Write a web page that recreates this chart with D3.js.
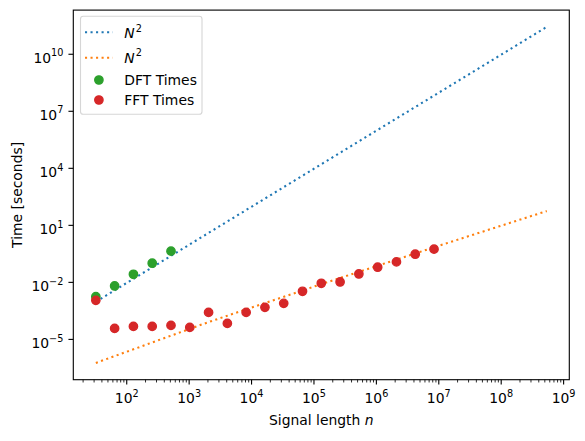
<!DOCTYPE html>
<html><head><meta charset="utf-8">
<script src="https://cdn.jsdelivr.net/npm/d3@7"></script>
<style>body{margin:0;background:#fff}svg{display:block}text{font-family:"DejaVu Sans",sans-serif;fill:#000}</style>
</head><body>
<svg id="c" width="585" height="441"></svg>
<script>
// ---- data ----
const nDFT = [32, 64, 128, 256, 512];
const dftTimes = [1.76e-3, 6.46e-3, 2.67e-2, 1.02e-1, 4.38e-1];
const nFFT = [32, 64, 128, 256, 512, 1024, 2048, 4096, 8192, 16384, 32768, 65536, 131072, 262144, 524288, 1048576, 2097152, 4194304, 8388608];
const fftTimes = [1.135e-3, 3.78e-5, 4.82e-5, 4.82e-5, 5.45e-5, 4.28e-5, 2.64e-4, 6.95e-5, 2.64e-4, 4.85e-4, 7.89e-4, 3.39e-3, 8.97e-3, 1.05e-2, 2.77e-2, 6.27e-2, 0.1194, 0.304, 0.558];
const nRef = [32, 2048, 131072, 8388608, 536870912];
const refSquare = [9.55e-4, 4.0, 1.64e4, 6.71e7, 2.75e11];
const refNlogN = [5.81e-7, 8.18e-5, 8.09e-3, 0.700, 56.5];
const xTickExps = [2, 3, 4, 5, 6, 7, 8, 9];
const yTickExps = [-5, -2, 1, 4, 7, 10];
const legendLabels = ["N^2", "N^2", "DFT Times", "FFT Times"];

const C = {blue:"#1f77b4", orange:"#ff7f0e", green:"#2ca02c", red:"#d62728"};
const L = 73.3, R = 569.3, T = 10.1, B = 379.7;
const svg = d3.select("#c");

function logDomain(vals){
  const lo = Math.log10(d3.min(vals)), hi = Math.log10(d3.max(vals)), r = hi - lo;
  return [Math.pow(10, lo - 0.05*r), Math.pow(10, hi + 0.05*r)];
}
const x = d3.scaleLog().domain(logDomain([...nDFT, ...nFFT, ...nRef])).range([L, R]);
const y = d3.scaleLog().domain(logDomain([...dftTimes, ...fftTimes, ...refSquare, ...refNlogN])).range([B, T]);

// lines
const line = d3.line().x(d => x(d[0])).y(d => y(d[1]));
const dash = "2.08,3.44";
svg.append("path").datum(d3.zip(nRef, refSquare)).attr("d", line)
  .attr("fill","none").attr("stroke",C.blue).attr("stroke-width",2.08).attr("stroke-dasharray",dash);
svg.append("path").datum(d3.zip(nRef, refNlogN)).attr("d", line)
  .attr("fill","none").attr("stroke",C.orange).attr("stroke-width",2.08).attr("stroke-dasharray",dash);

// points
svg.append("g").selectAll("circle").data(d3.zip(nDFT, dftTimes)).join("circle")
  .attr("cx", d => x(d[0])).attr("cy", d => y(d[1])).attr("r", 4.17)
  .attr("fill", C.green).attr("stroke", C.green).attr("stroke-width", 1.39);
svg.append("g").selectAll("circle").data(d3.zip(nFFT, fftTimes)).join("circle")
  .attr("cx", d => x(d[0])).attr("cy", d => y(d[1])).attr("r", 4.17)
  .attr("fill", C.red).attr("stroke", C.red).attr("stroke-width", 1.39);

// axes box
svg.append("rect").attr("x", L).attr("y", T).attr("width", R-L).attr("height", B-T)
  .attr("fill","none").attr("stroke","#000").attr("stroke-width",1.11);

function powLabel(sel, exp){
  sel.append("tspan").text("10");
  sel.append("tspan").attr("font-size", 9.7).attr("dy", -6.3)
     .text(exp < 0 ? "\u2212" + Math.abs(exp) : String(exp));
}

// x ticks
const xMajor = xTickExps.map(e => Math.pow(10, e));
const [dx0, dx1] = x.domain();
const xMinor = [];
for (let e = 1; e <= 9; e++) for (let m = 2; m <= 9; m++) { const v = m*Math.pow(10, e); if (v >= dx0 && v <= dx1) xMinor.push(v); }
svg.append("g").selectAll("line").data(xMinor).join("line")
  .attr("x1", d => x(d)).attr("x2", d => x(d)).attr("y1", B).attr("y2", B + 2.78)
  .attr("stroke", "#000").attr("stroke-width", 0.83);
svg.append("g").selectAll("line").data(xMajor).join("line")
  .attr("x1", d => x(d)).attr("x2", d => x(d)).attr("y1", B).attr("y2", B + 4.86)
  .attr("stroke", "#000").attr("stroke-width", 1.11);
xTickExps.forEach(e => {
  const t = svg.append("text").attr("x", x(Math.pow(10, e))).attr("y", 403).attr("font-size", 13.9).attr("text-anchor", "middle");
  powLabel(t, e);
});

// y ticks
svg.append("g").selectAll("line").data(yTickExps).join("line")
  .attr("x1", L - 4.86).attr("x2", L).attr("y1", d => y(Math.pow(10, d))).attr("y2", d => y(Math.pow(10, d)))
  .attr("stroke", "#000").attr("stroke-width", 1.11);
yTickExps.forEach(e => {
  const t = svg.append("text").attr("x", L - 9.9).attr("y", y(Math.pow(10, e)) + 8.5).attr("font-size", 13.9).attr("text-anchor", "end");
  powLabel(t, e);
});

// axis labels
const xl = svg.append("text").attr("x", (L+R)/2).attr("y", 425).attr("font-size", 13.9).attr("text-anchor", "middle");
xl.append("tspan").text("Signal length ");
xl.append("tspan").attr("font-style", "italic").text("n");
svg.append("text").attr("transform", `translate(22,${(T+B)/2}) rotate(-90)`).attr("font-size", 13.9)
  .attr("text-anchor", "middle").text("Time [seconds]");

// legend
const lg = svg.append("g");
lg.append("rect").attr("x", 80.5).attr("y", 16.3).attr("width", 121.5).attr("height", 98).attr("rx", 2.8)
  .attr("fill", "#fff").attr("fill-opacity", 0.8).attr("stroke", "#d6d6d6").attr("stroke-width", 1.11);
const rows = [
  {type:"line", color:C.blue, cy:32.3, base:38.3},
  {type:"line", color:C.orange, cy:57.7, base:62.7},
  {type:"dot", color:C.green, cy:80, base:85},
  {type:"dot", color:C.red, cy:100, base:105}
];
rows.forEach((r, i) => {
  if (r.type === "line") {
    lg.append("line").attr("x1", 85).attr("x2", 112.8).attr("y1", r.cy).attr("y2", r.cy)
      .attr("stroke", r.color).attr("stroke-width", 2.08).attr("stroke-dasharray", dash);
  } else {
    lg.append("circle").attr("cx", 98.9).attr("cy", r.cy).attr("r", 4.17)
      .attr("fill", r.color).attr("stroke", r.color).attr("stroke-width", 1.39);
  }
  const lab = legendLabels[i];
  const t = lg.append("text").attr("x", 124.3).attr("y", r.base).attr("font-size", 13.9);
  if (lab.includes("^")) {
    const [a, b] = lab.split("^");
    t.append("tspan").attr("font-style", "italic").text(a);
    t.append("tspan").attr("font-size", 9.7).attr("dy", -6.3).attr("dx", 1).text(b);
  } else t.text(lab);
});
</script>
</body></html>
